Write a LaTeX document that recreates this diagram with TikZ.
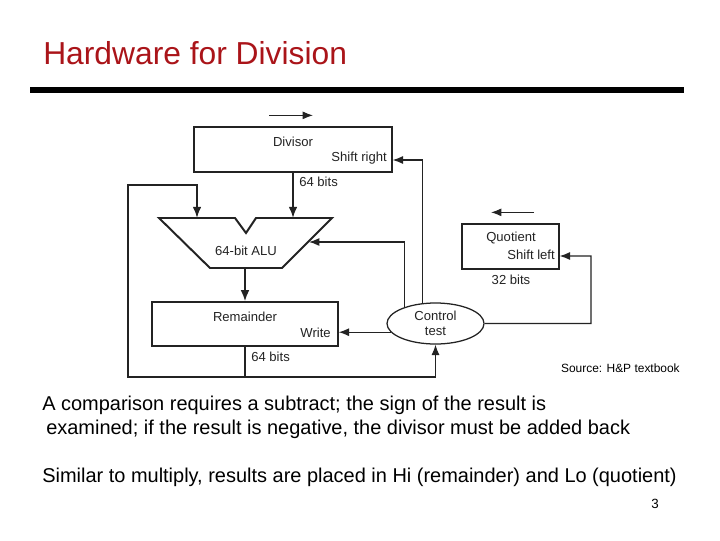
\documentclass[tikz,border=0pt]{standalone}
\usepackage{fontspec}
\setmainfont{Liberation Sans}
\usepackage{xcolor}
\usetikzlibrary{arrows.meta,positioning,shapes.geometric,calc}
\definecolor{titlered}{RGB}{170,20,25}
\definecolor{inkgray}{RGB}{35,35,35}

\begin{document}
\begin{tikzpicture}[x=0.025cm, y=-0.025cm,
  regbox/.style={draw=inkgray, line width=0.9pt, inner sep=0pt},
  ctl/.style={draw=inkgray, ellipse, line width=0.9pt, inner sep=0pt,
              minimum width=2.425cm, minimum height=1.025cm, align=center,
              font=\fontsize{9.3pt}{10.7pt}\selectfont, text=inkgray},
  lbl/.style={inner sep=0pt, font=\fontsize{9.3pt}{11pt}\selectfont, text=inkgray},
  body/.style={inner sep=0pt, anchor=base west, font=\fontsize{14.2pt}{17pt}\selectfont},
  arr/.style={-{Latex[length=2.6mm,width=2mm]}, line width=0.8pt, draw=inkgray},
  thickarr/.style={-{Latex[length=2.8mm,width=2.2mm]}, line width=1.4pt, draw=inkgray},
  plain/.style={line width=1.4pt, draw=inkgray}
]
  \useasboundingbox (0,0) rectangle (720,540);

  % Title and rule
  \node[inner sep=0pt, anchor=base west, text=titlered,
    font=\fontsize{22.6pt}{27pt}\selectfont] (title) at (43,64) {Hardware for Division};
  \fill[black] (30,87) rectangle (684,93);

  % Divisor register
  \node[regbox, minimum width=4.95cm, minimum height=1.125cm] (divisor) at (293,149.5) {};
  \node[lbl] (divname) at (293,142) {Divisor};
  \node[lbl, anchor=east] (divshift) at (387,158) {Shift right};
  \coordinate (divdirA) at ($(divisor.north)+(-24,-11)$);
  \coordinate (divdirB) at ($(divisor.north)+(20,-11)$);
  \draw[arr] (divdirA) -- (divdirB);
  \node[lbl, anchor=west] (divbits) at (299,182) {64 bits};

  % ALU
  \coordinate (aluTL) at (159,218);
  \coordinate (aluA) at (197,218);
  \coordinate (notchL) at (235,218);
  \coordinate (notchB) at (246,233);
  \coordinate (notchR) at (256,218);
  \coordinate (aluB) at (293,218);
  \coordinate (aluTR) at (332,218);
  \coordinate (aluBR) at (282,268);
  \coordinate (aluBL) at (210,268);
  \coordinate (aluOut) at (245,268);
  \coordinate (aluCtl) at (309,242);
  \draw[plain, line join=miter] (aluTL) -- (notchL) -- (notchB) -- (notchR) -- (aluTR)
    -- (aluBR) -- (aluBL) -- cycle;
  \node[lbl] (aluname) at (246,251) {64-bit ALU};

  % Remainder register
  \node[regbox, minimum width=4.65cm, minimum height=1.1cm] (remainder) at (245,324) {};
  \node[lbl] (remname) at (245,317) {Remainder};
  \node[lbl, anchor=east] (remwrite) at (331,333) {Write};
  \node[lbl, anchor=west] (rembits) at (251,357) {64 bits};

  % Quotient register
  \node[regbox, minimum width=2.425cm, minimum height=1.125cm] (quotient) at (510.5,246.5) {};
  \node[lbl] (quoname) at (511,238) {Quotient};
  \node[lbl, anchor=east] (quoshift) at (555,255) {Shift left};
  \node[lbl] (quobits) at (511,280) {32 bits};
  \coordinate (quodirA) at ($(quotient.north)+(23.5,-11)$);
  \coordinate (quodirB) at ($(quotient.north)+(-19.5,-11)$);
  \draw[arr] (quodirA) -- (quodirB);

  % Control
  \node[ctl] (control) at (435.5,323.5) {Control\\test};

  % Data paths
  \coordinate (loopC) at (245,377);
  \coordinate (loopW) at (128,185);
  \draw[thickarr] (divisor.south) -- (aluB);
  \draw[thickarr] (aluOut) -- (remainder.north);
  \draw[thickarr] (remainder.south) -- (loopC) -| (loopW) -| (aluA);
  \draw[arr] (loopC) -| (control.south);

  % Control lines
  \coordinate (divCtl) at ($(divisor.east)+(0,10.5)$);
  \coordinate (quoCtl) at ($(quotient.east)+(0,9.5)$);
  \coordinate (quoLoop) at (591,256);
  \draw[arr] (control.191) -- (control.191 -| remainder.east);
  \draw[arr] (control.152) |- (aluCtl);
  \draw[arr] (control.122) |- (divCtl);
  \draw[arr] (control.east) -| (quoLoop) -- (quoCtl);

  \node[inner sep=0pt, anchor=east, font=\fontsize{8.5pt}{10pt}\selectfont]
    (source) at (680,368) {Source: H\&P textbook};

  % Notes
  \node[body] (note1) at (42,410) {A comparison requires a subtract; the sign of the result is};
  \node[body] (note2) at (46,434) {examined; if the result is negative, the divisor must be added back};
  \node[body] (note3) at (42,482) {Similar to multiply, results are placed in Hi (remainder) and Lo (quotient)};
  \node[inner sep=0pt, anchor=base, font=\fontsize{9.5pt}{11pt}\selectfont] (pagenum) at (655,508) {3};
\end{tikzpicture}
\end{document}
